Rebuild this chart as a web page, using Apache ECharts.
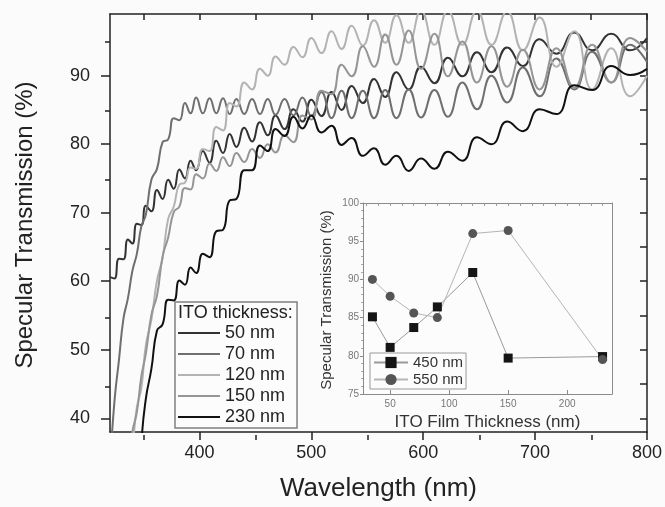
<!DOCTYPE html>
<html><head><meta charset="utf-8">
<script src="https://cdn.jsdelivr.net/npm/echarts@6/dist/echarts.min.js"></script>
<style>html,body{margin:0;padding:0;background:#fbfbfb}#c{width:665px;height:507px}</style>
</head><body><div id="c"></div>
<script>
// ---- main chart data (wavelength in nm, transmission in %) ----
const wavelength = [320,324,328,332,336,340,344,348,352,357,362,367,372,377,382,387,392,397,403,409,415,421,427,433,440,447,454,461,468,476,484,492,500,509,518,527,536,546,556,566,576,587,598,610,622,635,648,661,675,689,704,719,735,751,768,785,800];
const t50  = [60.6,60.4,63.3,63.2,66.1,65.5,68.4,68.2,71,70.2,73.3,72,74.8,73.5,76.3,75,77.6,76.2,79,77.3,80.5,78.7,81.5,79.6,82.4,80.4,83.2,81.3,84.2,82.2,85.1,83.3,86.5,84.1,87.6,85,88.5,86,89.5,86.9,90.5,88,91.3,88.9,92.6,89.9,93.4,90.5,94.1,91.4,95.3,93.2,96.3,93.7,96.1,93.7,95.5];
const t70  = [33,42.5,48.5,54.5,57.5,61.5,64,68,69.7,74.8,76.4,80.3,80.7,83.8,83.5,86,84.5,86.8,84.5,86.7,84.5,86.7,84.4,86.6,84.4,86.6,84.4,86.6,84.3,86.6,84.2,86.8,84.1,87.6,83.8,87.8,83.8,87.8,83.8,87.9,83.8,88,83.9,87.9,84,89,85.1,90,86.1,91.2,87,92.5,88,93.5,89,94.5,92];
const t120 = [20,25,29,32,34.5,36.4,41.6,44.4,50.6,54.4,60.1,63.4,69.1,70.9,74.1,74.4,76.6,76.4,79.3,79,82.5,82,86,85.5,89,88,91,90,92.8,91.6,94.2,92.7,95.5,93.3,96.5,93.9,97.3,94.4,98.1,94.8,98.8,94.8,99.5,94.5,99.5,94.5,99.5,94.5,99.4,93.7,98.5,91.3,96.5,88,94,87,90];
const t150 = [20,24,28,31,34,38.1,40.9,46.1,49.4,55.1,57.9,63.6,66.4,70.1,70.9,73.6,73.4,75.6,75,77.2,76.1,78.1,76.8,78.7,77.4,79.3,78,80,78.8,81.3,80.3,84.2,83.6,87.8,87.3,91.6,89.9,94.3,91.3,96,91.6,96.6,91,96.1,89.9,95,89,94.3,88.4,93.8,88,94,88.2,94.5,89,95.5,93.5];
const t230 = [20,20,20,20,20,20,20,36.2,42.8,47.2,52.8,53.7,57.3,57.2,60.1,59.5,62,61.2,64,63.5,67.3,67.5,71.8,72,76.2,76.2,79.8,79,82.2,81.2,84,82.3,84.2,81.7,82.7,79.9,80.9,78.3,79.4,77,78.3,76.1,77.9,76.4,78.9,77.6,81,80,83.3,81.9,85.1,84.4,88.6,87.9,91.4,90.1,91];
const seriesNames = ['50 nm','70 nm','120 nm','150 nm','230 nm'];
const seriesColors = ['#333333','#6f6f6f','#b3b3b3','#959595','#111111'];

// ---- inset data ----
const thicknessNm = [35,50,70,90,120,150,230];
const trans450 = [85.1,81.1,83.7,86.4,90.9,79.7,79.9];
const trans550 = [90.0,87.8,85.6,85.0,96.0,96.4,79.5];

// ---- tick values ----
const xMajor = [400,500,600,700,800];
const xMinor = [350,450,550,650,750];
const xTop = [350,400,450,500,550,600,650,700,750,800];
const yMajor = [40,50,60,70,80,90];
const yMinor = [45,55,65,75,85,95];
const yRight = [40,45,50,55,60,65,70,75,80,85,90,95];
const insetXMajor = [50,100,150,200];
const insetXTop = [30,40,50,60,70,80,90,100,110,120,130,140,150,160,170,180,190,200,210,220,230];

const FF = '"Liberation Sans", Arial, sans-serif';
const curves = [t50,t70,t120,t150,t230];

const chart = echarts.init(document.getElementById('c'), null, {renderer:'canvas'});
const mainSeries = curves.map((arr, k) => ({
  name: seriesNames[k], type:'line', xAxisIndex:0, yAxisIndex:0,
  data: wavelength.map((w,i)=>[w, arr[i]]),
  symbol:'none', smooth:0.5, clip:true,
  lineStyle:{color:seriesColors[k], width:2}, itemStyle:{color:seriesColors[k]},
  animation:false, z: 3
}));
const insetSeries = [
  {name:'450 nm', type:'line', xAxisIndex:3, yAxisIndex:3,
   data: thicknessNm.map((t,i)=>[t, trans450[i]]),
   symbol:'rect', symbolSize:9, lineStyle:{color:'#9a9a9a', width:1}, itemStyle:{color:'#151515'}, animation:false, z:5},
  {name:'550 nm', type:'line', xAxisIndex:3, yAxisIndex:3,
   data: thicknessNm.map((t,i)=>[t, trans550[i]]),
   symbol:'circle', symbolSize:9, lineStyle:{color:'#b5b5b5', width:1}, itemStyle:{color:'#555555'}, animation:false, z:5}
];

const axisCol = '#222';
chart.setOption({
  backgroundColor:'#fbfbfb',
  animation:false,
  grid:[
    {left:110, top:14, width:538, height:421},
    {left:110, top:14, width:538, height:421},
    {left:363, top:203, width:249, height:191, show:true, backgroundColor:'#fcfcfc', borderWidth:0}
  ],
  xAxis:[
    {gridIndex:0, type:'value', position:'bottom', min:320, max:800,
     axisLine:{show:true, onZero:false, lineStyle:{color:axisCol, width:1.5}},
     axisTick:{show:true, customValues:xMajor, length:8, lineStyle:{color:axisCol, width:1.5}},
     axisLabel:{customValues:xMajor, fontSize:18, color:axisCol, margin:12, fontFamily:FF},
     splitLine:{show:false},
     name:'Wavelength (nm)', nameLocation:'middle', nameGap:44,
     nameTextStyle:{fontSize:26, color:axisCol, fontFamily:FF}},
    {gridIndex:0, type:'value', position:'top', min:320, max:800,
     axisLine:{show:true, onZero:false, lineStyle:{color:axisCol, width:1.5}},
     axisTick:{show:true, inside:true, customValues:xTop, length:6, lineStyle:{color:axisCol, width:1.5}},
     axisLabel:{show:false}, splitLine:{show:false}},
    {gridIndex:1, type:'value', position:'bottom', min:320, max:800,
     axisLine:{show:false, onZero:false},
     axisTick:{show:true, customValues:xMinor, length:5, lineStyle:{color:axisCol, width:1.5}},
     axisLabel:{show:false}, splitLine:{show:false}},
    {gridIndex:2, type:'value', position:'bottom', min:27, max:238,
     axisLine:{show:true, onZero:false, lineStyle:{color:'#8a8a8a', width:1}},
     axisTick:{show:true, inside:true, customValues:insetXMajor, length:4, lineStyle:{color:'#8a8a8a'}},
     axisLabel:{customValues:insetXMajor, fontSize:10, color:'#777', margin:5, fontFamily:FF},
     splitLine:{show:false},
     name:'ITO Film Thickness (nm)', nameLocation:'middle', nameGap:20,
     nameTextStyle:{fontSize:17, color:'#333', fontFamily:FF}},
    {gridIndex:2, type:'value', position:'top', min:27, max:238,
     axisLine:{show:true, onZero:false, lineStyle:{color:'#8a8a8a', width:1}},
     axisTick:{show:true, inside:true, customValues:insetXTop, length:3, lineStyle:{color:'#999'}},
     axisLabel:{show:false}, splitLine:{show:false}}
  ],
  yAxis:[
    {gridIndex:0, type:'value', position:'left', min:38, max:99,
     axisLine:{show:true, onZero:false, lineStyle:{color:axisCol, width:1.5}},
     axisTick:{show:true, customValues:yMajor, length:9, lineStyle:{color:axisCol, width:1.5}},
     axisLabel:{customValues:yMajor, fontSize:18, color:axisCol, margin:20, fontFamily:FF},
     splitLine:{show:false}},
    {gridIndex:0, type:'value', position:'right', min:38, max:99,
     axisLine:{show:true, onZero:false, lineStyle:{color:axisCol, width:1.5}},
     axisTick:{show:true, inside:true, customValues:yRight, length:7, lineStyle:{color:axisCol, width:1.5}},
     axisLabel:{show:false}, splitLine:{show:false}},
    {gridIndex:1, type:'value', position:'left', min:38, max:99,
     axisLine:{show:false, onZero:false},
     axisTick:{show:true, customValues:yMinor, length:5, lineStyle:{color:axisCol, width:1.5}},
     axisLabel:{show:false}, splitLine:{show:false}},
    {gridIndex:2, type:'value', position:'left', min:75, max:100, interval:5,
     axisLine:{show:true, onZero:false, lineStyle:{color:'#8a8a8a', width:1}},
     axisTick:{show:true, length:3, lineStyle:{color:'#8a8a8a'}},
     minorTick:{show:true, splitNumber:5, length:2, lineStyle:{color:'#aaa'}},
     axisLabel:{fontSize:10, color:'#777', margin:4, fontFamily:FF},
     splitLine:{show:false}},
    {gridIndex:2, type:'value', position:'right', min:75, max:100,
     axisLine:{show:true, onZero:false, lineStyle:{color:'#8a8a8a', width:1}},
     axisTick:{show:false}, axisLabel:{show:false}, splitLine:{show:false}}
  ],
  legend:[
    {data:seriesNames, left:175, top:302, orient:'vertical', icon:'rect',
     itemWidth:42, itemHeight:2, itemGap:1, padding:[21,12,1,3],
     borderColor:'#808080', borderWidth:1.5, backgroundColor:'#fcfcfc',
     textStyle:{fontSize:18, lineHeight:20, color:'#222', fontFamily:FF}},
    {data:['450 nm','550 nm'], left:370, top:353, orient:'vertical',
     itemWidth:34, itemHeight:14, itemGap:0, padding:[1,3,1,3],
     borderColor:'#999', borderWidth:1, backgroundColor:'#fcfcfc',
     textStyle:{fontSize:15, lineHeight:17, color:'#333', fontFamily:FF}}
  ],
  graphic:[
    {type:'text', x:25, y:225, rotation:Math.PI/2,
     style:{text:'Specular Transmission (%)', fontSize:24, fontFamily:FF, fill:'#222', align:'center', verticalAlign:'middle'}},
    {type:'text', x:327, y:300, rotation:Math.PI/2,
     style:{text:'Specular Transmission (%)', fontSize:15, fontFamily:FF, fill:'#333', align:'center', verticalAlign:'middle'}},
    {type:'text', x:178, y:313, z:100,
     style:{text:'ITO thickness:', fontSize:18, fontFamily:FF, fill:'#222', align:'left', verticalAlign:'middle'}}
  ],
  series: mainSeries.concat(insetSeries)
});
</script></body></html>
